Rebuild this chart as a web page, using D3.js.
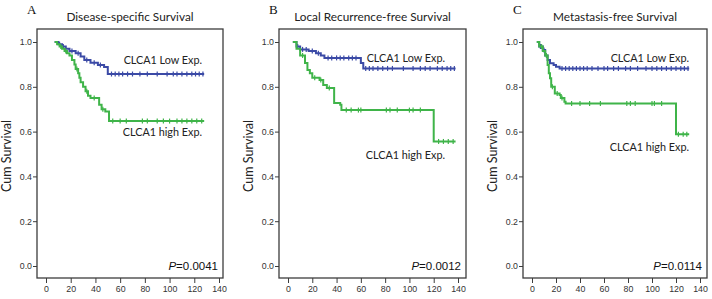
<!DOCTYPE html>
<html lang="en">
<head>
<meta charset="utf-8">
<title>CLCA1 survival curves</title>
<style>
  body { margin: 0; background: #fff; }
  svg { display: block; }
</style>
<script src="https://d3js.org/d3.v7.min.js"></script>
</head>
<body>
<div class="chart"></div>
<script>
// axis ticks
const timeTicks = [0, 20, 40, 60, 80, 100, 120, 140];
const survTicks = [0.0, 0.2, 0.4, 0.6, 0.8, 1.0];

const panelLetters = ["A", "B", "C"];
const panelTitles = ["Disease-specific Survival", "Local Recurrence-free Survival", "Metastasis-free Survival"];
const pValues = ["0.0041", "0.0012", "0.0114"];
const lowLabel = "CLCA1 Low Exp.";
const highLabel = "CLCA1 high Exp.";

// Kaplan-Meier steps [time, survival], last follow-up, censored times
const lowStepsA = [[7,1.0],[10,0.99],[13,0.98],[16,0.97],[19,0.96],[24,0.95],[28,0.935],[31,0.92],[36,0.907],[42,0.897],[47,0.888],[50,0.857]];
const lowEndA = 128;
const lowCensorA = [11,14,21,26,33,39,44,53,56,59,62,66,70,76,82,90,98,103,106,110,114,118,121,124,127];
const highStepsA = [[7,1.0],[9,0.99],[11,0.98],[13,0.97],[15,0.96],[17,0.95],[19,0.94],[21,0.92],[23,0.9],[24,0.88],[26,0.86],[27,0.84],[28,0.82],[30,0.8],[32,0.78],[34,0.76],[36,0.75],[43,0.72],[45,0.7],[48,0.69],[51,0.647]];
const highEndA = 128;
const highCensorA = [12,16,25,33,39,46,54,60,65,78,82,90,95,100,106,110,114,118,122,126];

const lowStepsB = [[4,1.0],[7,0.98],[10,0.967],[17,0.96],[23,0.95],[27,0.94],[30,0.929],[60,0.906],[62,0.882]];
const lowEndB = 138;
const lowCensorB = [8,12,15,20,25,33,36,40,43,46,50,53,56,64,67,70,74,78,82,86,95,103,109,113,117,123,127,131,134,137];
const highStepsB = [[4,1.0],[7,0.97],[10,0.94],[14,0.906],[16,0.875],[18,0.86],[20,0.84],[26,0.83],[29,0.808],[32,0.795],[38,0.728],[43,0.72],[44,0.696],[120,0.556]];
const highEndB = 138;
const highCensorB = [12,22,27,34,48,52,58,60,81,84,90,100,103,109,124,128,132,136];

const lowStepsC = [[4,1.0],[6,0.98],[9,0.964],[11,0.94],[13,0.92],[15,0.905],[18,0.897],[20,0.89],[23,0.882]];
const lowEndC = 131;
const lowCensorC = [7,10,25,28,31,34,37,40,43,46,50,55,60,63,68,72,78,82,88,95,100,104,108,112,116,120,124,127,130];
const highStepsC = [[4,1.0],[6,0.98],[9,0.96],[11,0.94],[13,0.897],[14,0.86],[15,0.838],[16,0.8],[19,0.77],[23,0.763],[24,0.75],[27,0.733],[28,0.726],[120,0.588]];
const highEndC = 131;
const highCensorC = [8,12,17,21,25,33,40,48,57,79,82,86,100,102,108,122,126,129];

// layout of the three panels (pixels)
const panels = [
  { x0: 46, x1: 219, left: 37, right: 223, lowY: 60, highY: 132, labelRight: 202,
    low: [lowStepsA, lowEndA, lowCensorA], high: [highStepsA, highEndA, highCensorA] },
  { x0: 288, x1: 458, left: 279, right: 466, lowY: 58, highY: 155, labelRight: 445,
    low: [lowStepsB, lowEndB, lowCensorB], high: [highStepsB, highEndB, highCensorB] },
  { x0: 532, x1: 700, left: 523, right: 707, lowY: 58, highY: 147, labelRight: 689,
    low: [lowStepsC, lowEndC, lowCensorC], high: [highStepsC, highEndC, highCensorC] }
];
const frameTop = 29, frameBottom = 278;
const blue = "#3b4aa6", green = "#3fb449", axisColor = "#3c3c3c";

const svg = d3.select(".chart").append("svg")
  .attr("width", 712).attr("height", 299);

const y = d3.scaleLinear().domain([0, 1]).range([266, 42]);

const survAt = (steps, t) => {
  let s = steps[0][1];
  steps.forEach(d => { if (d[0] <= t) s = d[1]; });
  return s;
};

panels.forEach((p, i) => {
  const g = svg.append("g");
  const x = d3.scaleLinear().domain([0, 140]).range([p.x0, p.x1]);

  // panel letter
  g.append("text")
    .attr("x", p.left - 10).attr("y", 14)
    .style("font-family", "'Liberation Serif', 'Times New Roman', serif")
    .style("font-size", "13px").style("fill", "#111")
    .text(panelLetters[i]);

  // title
  g.append("text")
    .attr("x", (p.left + p.right) / 2).attr("y", 21)
    .attr("text-anchor", "middle")
    .style("font-family", "Lato, sans-serif")
    .style("font-size", "11.8px").style("fill", "#222")
    .text(panelTitles[i]);

  // y axis title
  g.append("text")
    .attr("transform", `translate(${p.left - 30},156) rotate(-90)`)
    .attr("text-anchor", "middle")
    .attr("dy", "0.35em")
    .style("font-family", "Lato, sans-serif")
    .style("font-size", "12.5px").style("fill", "#222")
    .text("Cum Survival");

  // axes
  const xAxis = g.append("g")
    .attr("transform", `translate(0,${frameBottom})`)
    .call(d3.axisBottom(x).tickValues(timeTicks).tickSize(5).tickSizeOuter(0).tickPadding(3));
  xAxis.select(".domain").remove();

  const yAxis = g.append("g")
    .attr("transform", `translate(${p.left},0)`)
    .call(d3.axisLeft(y).tickValues(survTicks).tickFormat(d3.format(".1f")).tickSize(4).tickSizeOuter(0).tickPadding(1));
  yAxis.select(".domain").remove();

  [xAxis, yAxis].forEach(a => {
    a.selectAll("line").attr("stroke", axisColor);
    a.selectAll("text")
      .style("font-family", "'Liberation Sans', Arial, sans-serif")
      .style("font-size", "8.8px").style("fill", "#333");
  });

  // frame
  g.append("rect")
    .attr("x", p.left).attr("y", frameTop)
    .attr("width", p.right - p.left).attr("height", frameBottom - frameTop)
    .attr("fill", "none").attr("stroke", axisColor).attr("stroke-width", 1.3);

  // curves
  const line = d3.line().x(d => x(d[0])).y(d => y(d[1])).curve(d3.curveStepAfter);
  [[p.low, blue], [p.high, green]].forEach(([[steps, end, censor], color]) => {
    const pts = steps.concat([[end, steps[steps.length - 1][1]]]);
    g.append("path")
      .attr("d", line(pts))
      .attr("fill", "none").attr("stroke", color).attr("stroke-width", 2);
    g.append("g").selectAll("line")
      .data(censor)
      .join("line")
      .attr("x1", d => x(d)).attr("x2", d => x(d))
      .attr("y1", d => y(survAt(steps, d)) - 2.5)
      .attr("y2", d => y(survAt(steps, d)) + 2.5)
      .attr("stroke", color).attr("stroke-width", 1.2);
  });

  // labels
  [[lowLabel, p.lowY], [highLabel, p.highY]].forEach(([txt, ly]) => {
    g.append("text")
      .attr("x", p.labelRight).attr("y", ly).attr("dy", "0.35em")
      .attr("text-anchor", "end")
      .style("font-family", "Lato, sans-serif")
      .style("font-size", "10.8px").style("fill", "#222")
      .text(txt);
  });

  // p value
  const pt = g.append("text")
    .attr("x", p.right - 5).attr("y", 270)
    .attr("text-anchor", "end")
    .style("font-family", "'Liberation Sans', Arial, sans-serif")
    .style("font-size", "11.5px").style("fill", "#111");
  pt.append("tspan").style("font-style", "italic").text("P");
  pt.append("tspan").text("=" + pValues[i]);
});
</script>
</body>
</html>
